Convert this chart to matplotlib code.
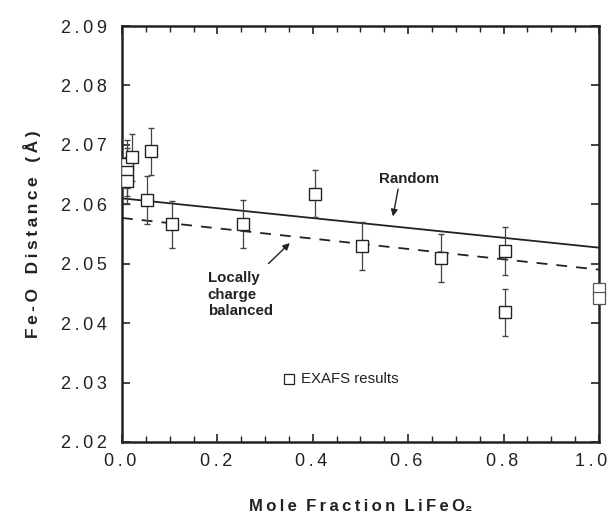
import numpy as np
import matplotlib
matplotlib.use("Agg")
import matplotlib.pyplot as plt
import matplotlib.transforms as mtransforms
from matplotlib.ticker import MultipleLocator, FuncFormatter

plt.rcParams['font.family'] = ['Liberation Sans', 'DejaVu Sans']

# EXAFS results (mole fraction LiFeO2, Fe-O distance, error)
x_exafs = [0.010, 0.010, 0.010, 0.022, 0.053, 0.061, 0.104, 0.254, 0.405, 0.504, 0.669, 0.804, 0.804]
y_exafs = [2.0668, 2.0654, 2.0640, 2.0679, 2.0607, 2.0689, 2.0566, 2.0567, 2.0618, 2.0530, 2.0510, 2.0521, 2.0418]
err_exafs = [0.004, 0.004, 0.004, 0.004, 0.004, 0.004, 0.004, 0.004, 0.004, 0.004, 0.004, 0.004, 0.004]
# points at x = 1.0 (no visible error bars)
x_end = [1.0, 1.0]
y_end = [2.0458, 2.0443]

# model lines
x_model = [0.0, 1.0]
y_random = [2.0610, 2.0527]
y_local = [2.0577, 2.0490]

x_ticks = [0.0, 0.2, 0.4, 0.6, 0.8, 1.0]

sp = '\u2009'


def spaced(s):
    # loose letter spacing like the original typesetting
    return sp.join(s)


fig = plt.figure(figsize=(6.12, 5.17), dpi=100)
ax = fig.add_axes([0.1993, 0.1451, 0.7794, 0.8046])

ax.plot(x_model, y_random, color='#222222', lw=1.3)
ax.plot(x_model, y_local, color='#222222', lw=1.3, ls=(0, (6, 5)))

ax.errorbar(x_exafs, y_exafs, yerr=err_exafs, fmt='s', ms=8, mfc='white',
            mec='#222222', mew=1.0, ecolor='#444444', elinewidth=0.9,
            capsize=2.5, capthick=0.9, zorder=3)
ax.plot(x_end, y_end, 's', ms=8, mfc='white', mec='#555555', mew=0.9,
        clip_on=False, zorder=3)

ax.set_xlim(0, 1.0)
ax.set_ylim(2.02, 2.09)

ax.set_xticks(x_ticks)
ax.xaxis.set_minor_locator(MultipleLocator(0.05))
ax.yaxis.set_major_locator(MultipleLocator(0.01))
ax.yaxis.set_major_formatter(FuncFormatter(lambda v, p: spaced('%.2f' % v)))

ax.tick_params(which='both', direction='in', top=True, right=True,
               color='#222222', labelsize=13, labelcolor='#222222')
ax.tick_params(which='major', length=6, width=1.2, pad=10)
ax.tick_params(which='minor', length=4, width=1.0)
ax.tick_params(axis='y', which='major', length=6, width=1.2, pad=11)
ax.tick_params(axis='x', labelbottom=False)

# x tick labels drawn by hand so the last one can sit inside the figure
trans = mtransforms.blended_transform_factory(ax.transData, ax.transAxes)
for t in x_ticks:
    shift = -8 if t == x_ticks[-1] else -1.5
    off = mtransforms.ScaledTranslation(shift / 100, 0, fig.dpi_scale_trans)
    ax.text(t, -0.048, spaced('%.1f' % t), fontsize=13, color='#222222',
            ha='center', va='center', transform=trans + off, clip_on=False)

for s in ax.spines.values():
    s.set_linewidth(1.8)
    s.set_color('#222222')

ax.set_ylabel(spaced('Fe-O') + '   ' + spaced('Distance') + '   ' + spaced('(Å)'),
              fontsize=12.5, fontweight='bold', color='#222222', labelpad=14)
ax.set_xlabel(spaced('Mole') + '  ' + spaced('Fraction') + '  ' + spaced('LiFeO') + '\u2082',
              fontsize=12, fontweight='bold', color='#222222', labelpad=38)

ax.text(0.601, 2.0642, 'Random', fontsize=10.8, fontweight='bold',
        ha='center', va='center', color='#222222')
ax.annotate('', xy=(0.567, 2.0575), xytext=(0.58, 2.0630),
            arrowprops=dict(arrowstyle='-|>', color='#222222', lw=1.0,
                            mutation_scale=10))

ax.text(0.18, 2.0487, 'Locally\ncharge\nbalanced',
        fontsize=10.8, fontweight='bold', ha='left', va='top', color='#222222',
        linespacing=1.2)
ax.annotate('', xy=(0.356, 2.0538), xytext=(0.303, 2.0497),
            arrowprops=dict(arrowstyle='-|>', color='#222222', lw=1.0,
                            mutation_scale=10))

ax.plot([0.35], [2.0306], 's', ms=7, mfc='white', mec='#222222', mew=0.9)
ax.text(0.375, 2.0306, 'EXAFS results', fontsize=10.8, ha='left', va='center',
        color='#222222')

fig.savefig('out.png', dpi=100)
